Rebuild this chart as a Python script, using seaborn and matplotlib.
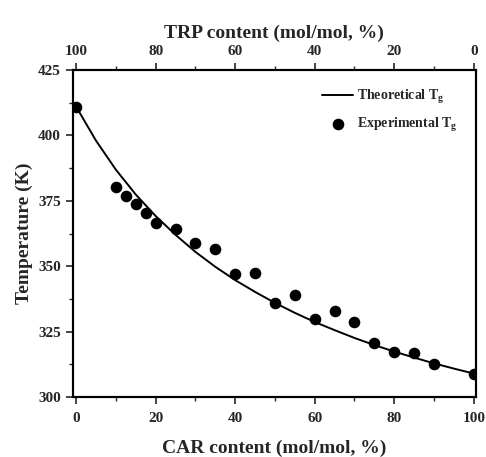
import matplotlib
matplotlib.use("Agg")
import matplotlib.pyplot as plt
import seaborn as sns
import pandas as pd

# Experimental Tg
car_exp = [0, 10, 12.5, 15, 17.5, 20, 25, 30, 35, 40, 45, 50, 55, 60, 65, 70, 75, 80, 85, 90, 100]
tg_exp = [411, 380.2, 376.8, 373.8, 370.5, 366.6, 364.1, 359, 356.5, 346.9, 347.3,
          336.1, 339, 329.7, 333, 328.7, 320.5, 317.3, 316.7, 312.5, 308.7]

# Theoretical Tg curve
car_theo = [0, 5, 10, 15, 20, 25, 30, 35, 40, 45, 50, 55, 60, 65, 70, 75, 80, 85, 90, 95, 100]
tg_theo = [411, 398.0, 386.9, 377.4, 369.2, 362.0, 355.5, 349.8, 344.7, 340.2, 336.0,
           332.2, 328.7, 325.6, 322.6, 319.9, 317.4, 315.1, 312.9, 310.9, 309]

x_ticks = [0, 20, 40, 60, 80, 100]
y_ticks = [300, 325, 350, 375, 400, 425]
top_ticks = [100, 80, 60, 40, 20, 0]


def main():
    sns.set_style("ticks")
    plt.rcParams["font.family"] = ["Liberation Serif", "DejaVu Serif"]
    plt.rcParams["font.weight"] = "bold"
    plt.rcParams["axes.labelweight"] = "bold"
    plt.rcParams["mathtext.fontset"] = "custom"
    plt.rcParams["mathtext.rm"] = "Liberation Serif:bold"
    plt.rcParams["mathtext.it"] = "Liberation Serif:bold"
    plt.rcParams["mathtext.bf"] = "Liberation Serif:bold"

    theo = pd.DataFrame({"car": car_theo, "tg": tg_theo})
    exp = pd.DataFrame({"car": car_exp, "tg": tg_exp})

    fig = plt.figure(figsize=(4.86, 4.57), dpi=100)
    ax = fig.add_axes([0.150, 0.131, 0.829, 0.716])

    sns.lineplot(data=theo, x="car", y="tg", color="black", lw=1.4,
                 label="Theoretical T$_g$", ax=ax)
    sns.scatterplot(data=exp, x="car", y="tg", color="black", s=70,
                    edgecolor="black", linewidth=0, zorder=3,
                    label="Experimental T$_g$", ax=ax)

    xlo, xhi = -0.8, 100.5
    ax.set_xlim(xlo, xhi)
    ax.set_ylim(300, 425)
    ax.set_xticks(x_ticks)
    ax.set_yticks(y_ticks)
    ax.set_xticks([10, 30, 50, 70, 90], minor=True)
    ax.set_yticks([312.5, 337.5, 362.5, 387.5, 412.5], minor=True)
    ax.tick_params(which="major", direction="out", length=5, width=1.2, labelsize=11)
    ax.tick_params(which="minor", direction="out", length=3, width=1.0)
    ax.tick_params(axis="x", pad=6)
    for lbl in ax.get_xticklabels() + ax.get_yticklabels():
        lbl.set_fontweight("bold")
    for side in ax.spines.values():
        side.set_linewidth(1.5)
        side.set_color("black")

    ax.set_xlabel("CAR content (mol/mol, %)", fontsize=14, fontweight="bold", labelpad=10)
    ax.set_ylabel("Temperature (K)", fontsize=14, fontweight="bold", labelpad=4)

    # top axis: TRP = 100 - CAR
    top = ax.twiny()
    top.set_xlim(100 - xlo, 100 - xhi)
    top.set_xticks(top_ticks)
    top.set_xticks([90, 70, 50, 30, 10], minor=True)
    top.set_xticklabels([str(v) for v in top_ticks], fontweight="bold")
    top.tick_params(which="major", direction="out", length=5, width=1.2, labelsize=11)
    top.tick_params(which="minor", direction="out", length=3, width=1.0)
    for side in top.spines.values():
        side.set_linewidth(1.5)
        side.set_color("black")
    top.set_xlabel("TRP content (mol/mol, %)", fontsize=14, fontweight="bold", labelpad=5)

    leg = ax.legend(loc="upper right", frameon=False, fontsize=10,
                    handlelength=2.2, handletextpad=0.3, borderaxespad=0.9,
                    labelspacing=0.7)
    for t in leg.get_texts():
        t.set_fontweight("bold")

    fig.savefig("out.png", dpi=100)


if __name__ == "__main__":
    main()
